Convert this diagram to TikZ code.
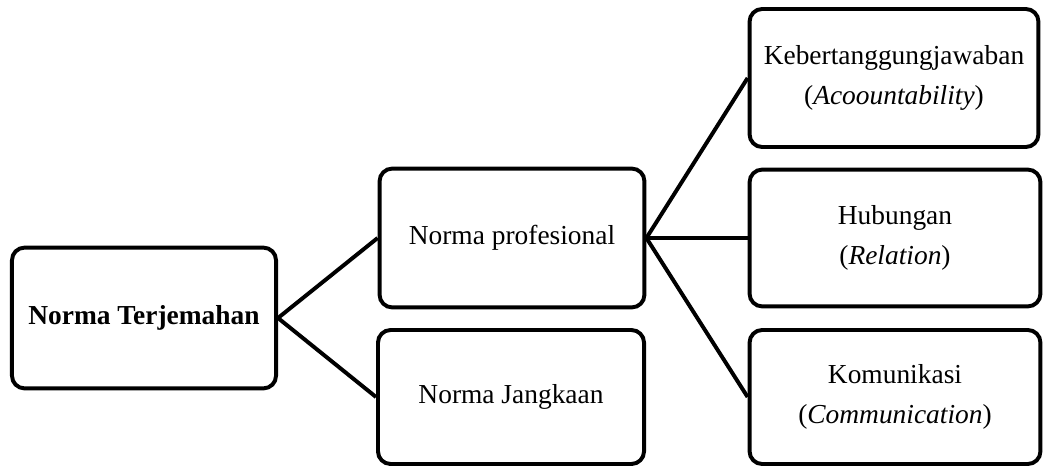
\documentclass[tikz,border=0pt]{standalone}
\usepackage{fontspec}
\setmainfont{Liberation Serif}
\usepackage{tikz}
\usetikzlibrary{positioning}

\begin{document}
\begin{tikzpicture}[x=0.025cm,y=-0.025cm]
\tikzset{
     box/.style={draw=black, line width=2.8pt, rounded corners=9pt, inner sep=0pt,
                 align=center, font=\fontsize{19.5}{28.5}\selectfont},
     link/.style={draw=black, line width=2.8pt}}

% The frame
\useasboundingbox (0,0) rectangle (1046,466);

% The boxes
\node (norma)    at (144,318) [box, minimum width=6.6cm,  minimum height=3.52cm] {\textbf{Norma Terjemahan}};
\node (profesi)  at (512,238) [box, minimum width=6.62cm, minimum height=3.47cm] {Norma profesional};
\node (jangkaan) at (511,397) [box, minimum width=6.65cm, minimum height=3.35cm] {Norma Jangkaan};
\node (tanggung) at (894,78)  [box, minimum width=7.22cm, minimum height=3.45cm] {Kebertanggungjawaban\\(\textit{Acoountability})};
\node (hubungan) at (895,238) [box, minimum width=7.27cm, minimum height=3.42cm] {Hubungan\\(\textit{Relation})};
\node (komunik)  at (895,397) [box, minimum width=7.27cm, minimum height=3.35cm] {Komunikasi\\(\textit{Communication})};

% The links
\draw [link] (norma.east) -- (profesi.west);
\draw [link] (norma.east) -- (jangkaan.west);
\draw [link] (profesi.east) -- (tanggung.west);
\draw [link] (profesi.east) -- (hubungan.west);
\draw [link] (profesi.east) -- (komunik.west);
\end{tikzpicture}
\end{document}
